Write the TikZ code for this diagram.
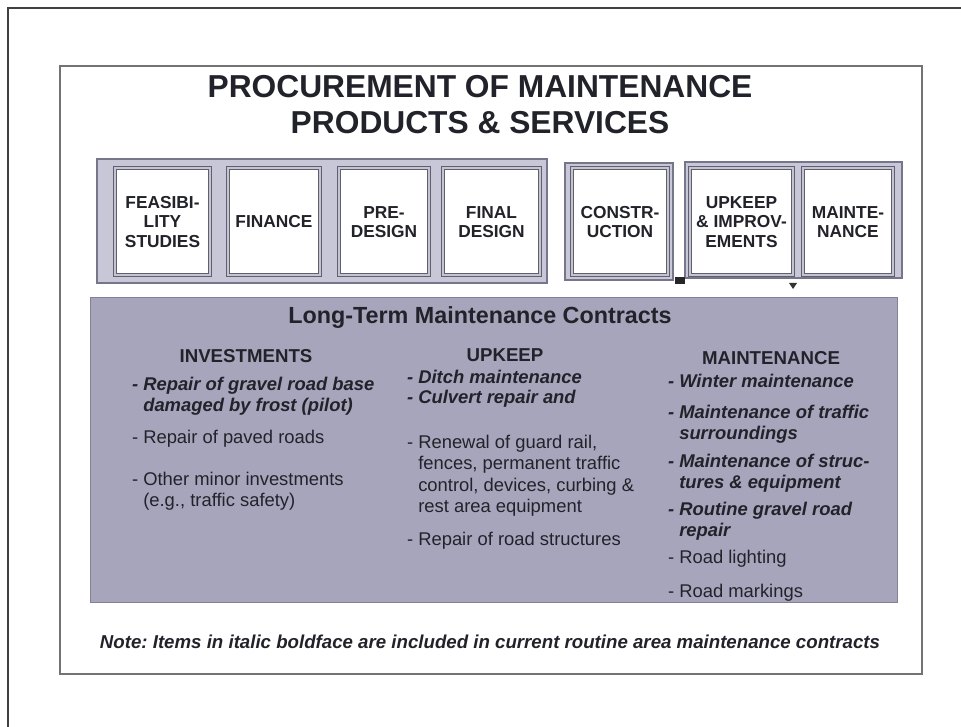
\documentclass[tikz,border=0pt]{standalone}
\usepackage{fontspec}
\setmainfont{Liberation Sans}
\usepackage{xcolor}
\frenchspacing

\definecolor{bandfill}{RGB}{200,199,215}
\definecolor{bandline}{RGB}{118,118,138}
\definecolor{boxline}{RGB}{95,95,112}
\definecolor{boxgap}{RGB}{196,196,208}
\definecolor{mainfill}{RGB}{166,165,188}
\definecolor{mainline}{RGB}{130,130,150}
\definecolor{inkgray}{RGB}{34,34,42}

\begin{document}
\begin{tikzpicture}
  [x=0.75pt,y=-0.75pt,
   band/.style={draw=bandline,fill=bandfill,line width=0.8pt},
   phasebox/.style={draw=boxline,fill=white,line width=0.5pt,double=boxgap,double distance=1.6pt},
   phase/.style={align=center,text=inkgray,inner sep=0pt,font=\bfseries\fontsize{13}{14.5}\selectfont},
   head/.style={text=inkgray,inner sep=0pt,font=\bfseries\fontsize{14}{16}\selectfont},
   item/.style={anchor=north west,align=left,inner sep=0pt,text=inkgray,font=\fontsize{13.8}{16}\selectfont},
   initem/.style={item,font=\bfseries\itshape\fontsize{13.8}{16}\selectfont}]
  \useasboundingbox (0,0) rectangle (961,727);

  % frames
  \draw[black!75,line width=1.5pt] (8,727) -- (8,8) -- (961,8);
  \draw[black!55,line width=0.8pt] (60,66) rectangle (922,674);

  \node[text=inkgray,align=center,font=\bfseries\fontsize{23.8}{27}\selectfont] (title) at (480,105)
    {PROCUREMENT OF MAINTENANCE\\PRODUCTS \& SERVICES};

  % phase bands
  \draw[band] (97,159) rectangle (547,283);
  \draw[band] (565,163) rectangle (673,280);
  \draw[band] (685,162) rectangle (902,278);

  \foreach \xa/\xb/\txt [count=\i] in {115/210/{FEASIBI-\\LITY\\STUDIES},228/320/FINANCE,
      339/429/{PRE-\\DESIGN},443/540/{FINAL\\DESIGN},572/668/{CONSTR-\\UCTION},
      690/793/{UPKEEP\\\& IMPROV-\\EMENTS},803/893/{MAINTE-\\NANCE}}
  {
    \draw[phasebox] (\xa,168) rectangle (\xb,275);
    \node[phase] (phase\i) at ({(\xa+\xb)/2},222) {\txt};
  }

  \fill[black!85] (675,277) rectangle (685,284);
  \fill[black!80] (789,283) -- (797,283) -- (793,289) -- cycle;

  % long-term contracts
  \draw[draw=mainline,fill=mainfill,line width=0.6pt] (90,297) rectangle (897,602);
  \node[text=inkgray,font=\bfseries\fontsize{17.5}{20}\selectfont] (ltmc) at (480,318)
    {Long-Term Maintenance Contracts};

  \node[head] (inv) at (246,356) {INVESTMENTS};
  \node[head] (upk) at (505,355) {UPKEEP};
  \node[head] (mnt) at (771,358) {MAINTENANCE};

  \node[initem] (inv1) at (143,377) {\llap{- }Repair of gravel road base\\damaged by frost (pilot)};
  \node[item] (inv2) at (143,430) {\llap{- }Repair of paved roads};
  \node[item] (inv3) at (143,472) {\llap{- }Other minor investments\\(e.g., traffic safety)};

  \node[initem] (upk1) at (418,370) {\llap{- }Ditch maintenance};
  \node[initem] (upk2) at (418,390) {\llap{- }Culvert repair and};
  \node[item] (upk3) at (418,435) {\llap{- }Renewal of guard rail,\\fences, permanent traffic\\control, devices, curbing \&\\rest area equipment};
  \node[item] (upk4) at (418,532) {\llap{- }Repair of road structures};

  \node[initem] (mnt1) at (679,374) {\llap{- }Winter maintenance};
  \node[initem] (mnt2) at (679,405) {\llap{- }Maintenance of traffic\\surroundings};
  \node[initem] (mnt3) at (679,454) {\llap{- }Maintenance of struc-\\tures \& equipment};
  \node[initem] (mnt4) at (679,502) {\llap{- }Routine gravel road\\repair};
  \node[item] (mnt5) at (679,550) {\llap{- }Road lighting};
  \node[item] (mnt6) at (679,584) {\llap{- }Road markings};

  \node[text=inkgray,font=\bfseries\itshape\fontsize{14}{16}\selectfont] (note) at (490,642)
    {Note: Items in italic boldface are included in current routine area maintenance contracts};
\end{tikzpicture}
\end{document}
